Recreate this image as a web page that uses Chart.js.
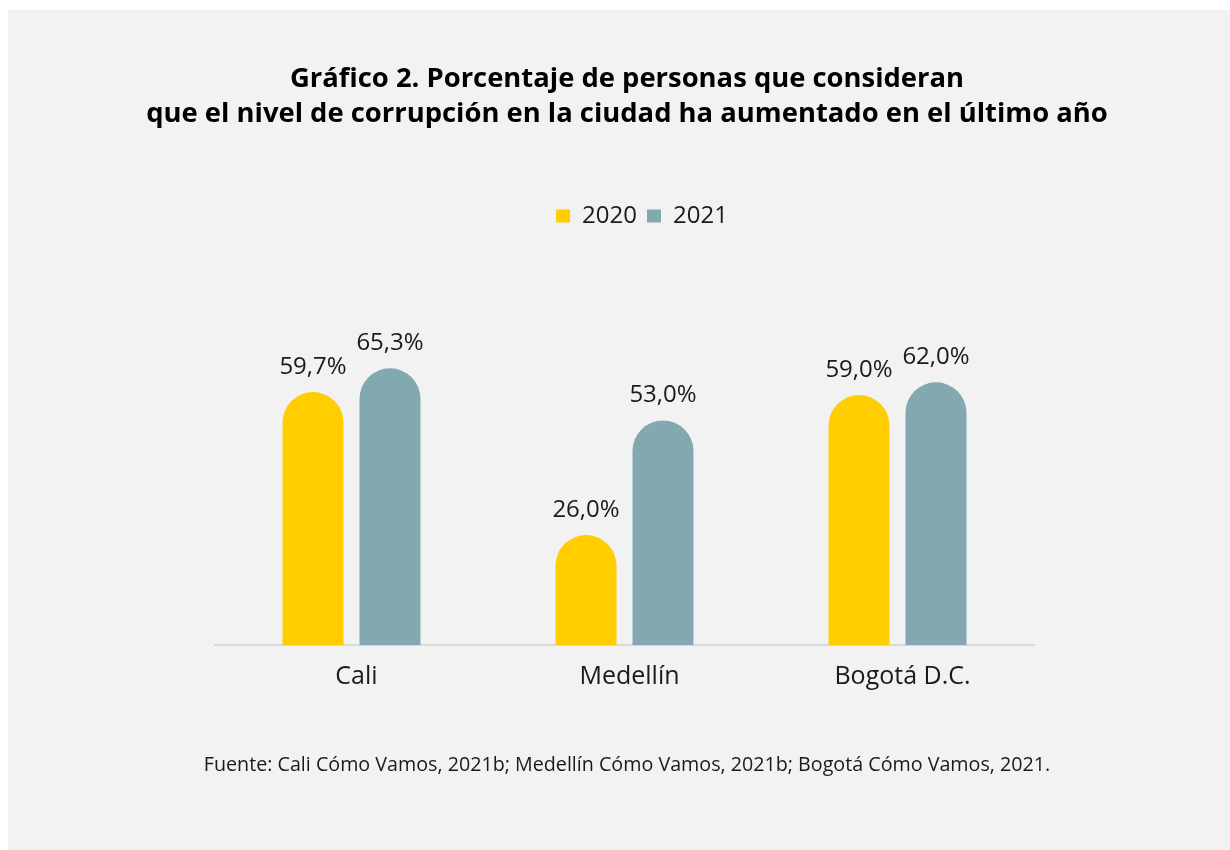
<!DOCTYPE html>
<html lang="es">
<head>
<meta charset="utf-8">
<script src="https://cdn.jsdelivr.net/npm/chart.js@4"></script>
<style>
  html, body { margin: 0; padding: 0; background: #ffffff; }
  #panel { position: absolute; left: 8px; top: 10px; width: 1222px; height: 840px; background: #f2f2f2; }
  #grafico { position: absolute; left: 0; top: 0; }
</style>
</head>
<body>
<div id="panel"></div>
<canvas id="grafico" width="1230" height="850"></canvas>
<script>
// datos del gráfico
const ciudades = ['Cali', 'Medellín', 'Bogotá D.C.'];
const anios = ['2020', '2021'];
const valores2020 = [59.7, 26.0, 59.0];
const valores2021 = [65.3, 53.0, 62.0];

const titulo = [
  'Gráfico 2. Porcentaje de personas que consideran',
  'que el nivel de corrupción en la ciudad ha aumentado en el último año'
];
const fuente = 'Fuente: Cali Cómo Vamos, 2021b; Medellín Cómo Vamos, 2021b; Bogotá Cómo Vamos, 2021.';

const FUENTE_TXT = "'Open Sans', 'Noto Sans', sans-serif";

// etiquetas encima de cada barra, formato con coma decimal
const etiquetasBarras = {
  id: 'etiquetasBarras',
  afterDatasetsDraw(chart) {
    const ctx = chart.ctx;
    ctx.save();
    ctx.font = '24px ' + FUENTE_TXT;
    ctx.fillStyle = '#1a1a1a';
    ctx.textAlign = 'center';
    ctx.textBaseline = 'middle';
    chart.data.datasets.forEach((ds, i) => {
      chart.getDatasetMeta(i).data.forEach((bar, j) => {
        const txt = ds.data[j].toFixed(1).replace('.', ',') + '%';
        ctx.fillText(txt, bar.x, bar.y - 25);
      });
    });
    ctx.restore();
  }
};

// espacio extra debajo de la leyenda y pequeño corrimiento a la derecha
const espacioLeyenda = {
  id: 'espacioLeyenda',
  beforeLayout(chart) {
    const leyenda = chart.legend;
    if (!leyenda || leyenda._conEspacio) return;
    const fitOriginal = leyenda.fit;
    leyenda.fit = function () {
      fitOriginal.call(this);
      this.height += 68;
    };
    leyenda._conEspacio = true;
  },
  afterLayout(chart) {
    chart.legend.left += 15;
    chart.legend.right += 15;
  }
};

// ejes verticales invisibles que solo reservan margen a los lados
const ejeOculto = (posicion, ancho) => ({
  type: 'linear',
  position: posicion,
  min: 0,
  max: 80,
  grid: { display: false },
  border: { display: false },
  ticks: { display: false },
  afterFit(escala) { escala.width = ancho; }
});

Chart.defaults.font.family = FUENTE_TXT;
Chart.defaults.color = '#1a1a1a';

new Chart(document.getElementById('grafico').getContext('2d'), {
  type: 'bar',
  data: {
    labels: ciudades,
    datasets: [{
      label: anios[0],
      data: valores2020,
      backgroundColor: '#FFCD00',
      borderRadius: { topLeft: 31, topRight: 31 },
      borderSkipped: 'start'
    }, {
      label: anios[1],
      data: valores2021,
      backgroundColor: '#82A9AF',
      borderRadius: { topLeft: 31, topRight: 31 },
      borderSkipped: 'start'
    }]
  },
  options: {
    responsive: false,
    animation: false,
    layout: { padding: { left: 30, right: 6, top: 0, bottom: 0 } },
    datasets: {
      bar: { categoryPercentage: 0.564, barPercentage: 0.792 }
    },
    scales: {
      x: {
        grid: { display: false },
        border: { display: true, color: '#d9d9d9', width: 2 },
        ticks: { font: { size: 25 }, color: '#1a1a1a', padding: 9, labelOffset: 5 }
      },
      y: ejeOculto('left', 185),
      yDer: ejeOculto('right', 190)
    },
    plugins: {
      title: {
        display: true,
        text: titulo,
        font: { size: 27.4, weight: 'bold', lineHeight: 35 / 27.4 },
        color: '#000000',
        padding: { top: 62, bottom: 62 }
      },
      legend: {
        position: 'top',
        labels: {
          font: { size: 24 },
          color: '#1a1a1a',
          boxWidth: 14,
          boxHeight: 13,
          padding: 10
        }
      },
      subtitle: {
        display: true,
        position: 'bottom',
        text: fuente,
        font: { size: 19.7 },
        color: '#1a1a1a',
        padding: { top: 52, bottom: 73 }
      },
      tooltip: { enabled: false }
    }
  },
  plugins: [etiquetasBarras, espacioLeyenda]
});
</script>
</body>
</html>
